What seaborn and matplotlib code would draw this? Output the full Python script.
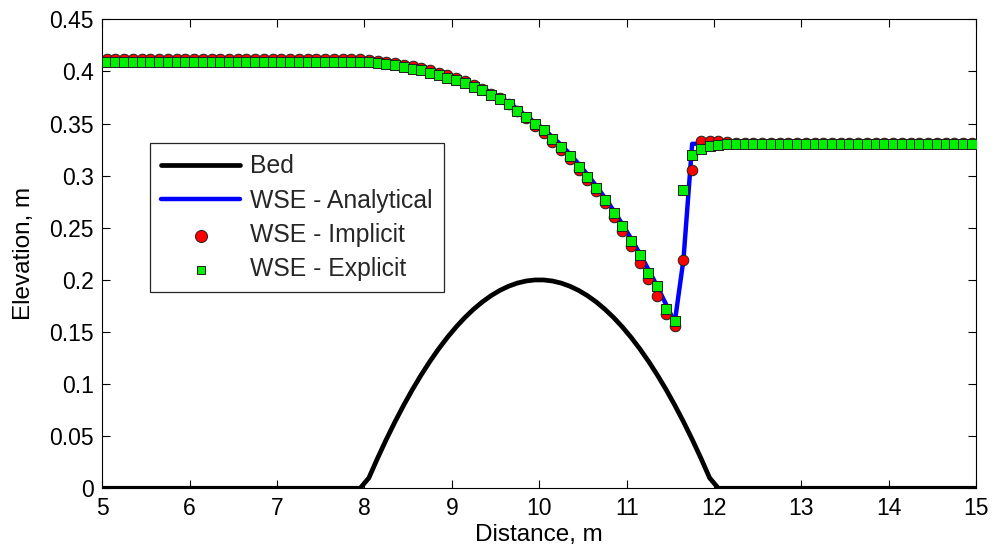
import numpy as np
import matplotlib
matplotlib.use("Agg")
import matplotlib.pyplot as plt
import seaborn as sns

# ---------------- data ----------------
# cell centres, 0.1 m apart
x_cells = np.round(5.05 + 0.1 * np.arange(100), 2)
domain_edges = [5.0, 15.0]

bed = ([0.0] * 29 +
       [0.0, 0.0099, 0.0289, 0.0469, 0.0639, 0.0799, 0.0949, 0.1089, 0.1219, 0.1339,
        0.1449, 0.1549, 0.1639, 0.1719, 0.1789, 0.1849, 0.1899, 0.1939, 0.1969, 0.1989,
        0.1999] +
       [0.1999, 0.1989, 0.1969, 0.1939, 0.1899, 0.1849, 0.1789, 0.1719, 0.1639, 0.1549,
        0.1449, 0.1339, 0.1219, 0.1089, 0.0949, 0.0799, 0.0639, 0.0469, 0.0289, 0.0099] +
       [0.0] * 30)

analytical = ([0.4120] * 29 +
              [0.4120, 0.4117, 0.4106, 0.4095, 0.4084, 0.4069, 0.4053, 0.4036, 0.4014, 0.3993,
               0.3967, 0.3941, 0.3909, 0.3875, 0.3836, 0.3795, 0.3752, 0.3700, 0.3638, 0.3572,
               0.3510] +
              [0.3449, 0.3370, 0.3295, 0.3207, 0.3112, 0.3011, 0.2903, 0.2788, 0.2665, 0.2535,
               0.2397, 0.2252, 0.2098, 0.1937, 0.1767, 0.1589, 0.2192, 0.3305, 0.3305, 0.3305] +
              [0.3305] * 30)

implicit = ([0.4118] * 29 +
            [0.4117, 0.4114, 0.4103, 0.4092, 0.4081, 0.4066, 0.4050, 0.4033, 0.4010, 0.3989,
             0.3962, 0.3936, 0.3904, 0.3869, 0.3830, 0.3787, 0.3743, 0.3690, 0.3620, 0.3552,
             0.3475] +
            [0.3410, 0.3325, 0.3243, 0.3155, 0.3052, 0.2955, 0.2848, 0.2733, 0.2603, 0.2466,
             0.2320, 0.2166, 0.2010, 0.1849, 0.1670, 0.1561, 0.2192, 0.3051, 0.3333, 0.3335] +
            [0.3328, 0.3320, 0.3315] +
            [0.3310] * 27)

explicit = ([0.4093] * 29 +
            [0.4093, 0.4090, 0.4078, 0.4067, 0.4057, 0.4042, 0.4026, 0.4010, 0.3988, 0.3968,
             0.3941, 0.3917, 0.3886, 0.3853, 0.3817, 0.3777, 0.3738, 0.3689, 0.3624, 0.3563,
             0.3492] +
            [0.3433, 0.3353, 0.3272, 0.3186, 0.3084, 0.2988, 0.2882, 0.2769, 0.2641, 0.2515,
             0.2368, 0.2234, 0.2064, 0.1942, 0.1718, 0.1609, 0.2865, 0.3200, 0.3257, 0.3288] +
            [0.3298, 0.3302, 0.3304] +
            [0.3305] * 27)

x_ticks = [5, 6, 7, 8, 9, 10, 11, 12, 13, 14, 15]
x_tick_labels = ["5", "6", "7", "8", "9", "10", "11", "12", "13", "14", "15"]
y_ticks = [0, 0.05, 0.1, 0.15, 0.2, 0.25, 0.3, 0.35, 0.4, 0.45]
y_tick_labels = ["0", "0.05", "0.1", "0.15", "0.2", "0.25", "0.3", "0.35", "0.4", "0.45"]

series_labels = ["Bed", "WSE - Analytical", "WSE - Implicit", "WSE - Explicit"]

# ---------------- plot ----------------
sns.set_theme(style="white")
plt.rcParams["font.family"] = ["Liberation Sans", "DejaVu Sans"]

fig = plt.figure(figsize=(9.95, 5.54), dpi=100)
ax = fig.add_axes([0.1028, 0.1186, 0.8783, 0.8466])

bed_x = np.concatenate([[domain_edges[0]], x_cells, [domain_edges[1]]])
bed_y = [bed[0]] + bed + [bed[-1]]

sns.lineplot(x=bed_x, y=bed_y, color="black", linewidth=3.4, label=series_labels[0],
             ax=ax, sort=False, zorder=2)
sns.lineplot(x=x_cells, y=analytical, color="#0000ff", linewidth=3.2, label=series_labels[1],
             ax=ax, sort=False, zorder=2.5)
sns.scatterplot(x=x_cells, y=implicit, marker="o", s=58, color="#ff0000",
                edgecolor="#202020", linewidth=0.7, label=series_labels[2], ax=ax, zorder=3)
sns.scatterplot(x=x_cells, y=explicit, marker="s", s=44, color="#00ee00",
                edgecolor="#202020", linewidth=0.7, label=series_labels[3], ax=ax, zorder=4)

ax.set_xlim(5, 15)
ax.set_ylim(0, 0.45)
ax.set_xticks(x_ticks)
ax.set_xticklabels(x_tick_labels)
ax.set_yticks(y_ticks)
ax.set_yticklabels(y_tick_labels)

for sp in ax.spines.values():
    sp.set_visible(True)
    sp.set_color("black")
    sp.set_linewidth(0.8)

ax.tick_params(direction="in", length=6, width=0.8, colors="black", labelsize=16.5,
               pad=6, top=True, right=True, bottom=True, left=True)
ax.set_xlabel("Distance, m", fontsize=17.5, color="black", labelpad=3)
ax.set_ylabel("Elevation, m", fontsize=17.5, color="black", labelpad=10)

leg = ax.legend(loc="upper left", bbox_to_anchor=(0.0544, 0.736), fontsize=17.8,
                frameon=True, fancybox=False, edgecolor="#262626", framealpha=1,
                borderpad=0.45, handlelength=3.2, handletextpad=0.4,
                labelspacing=0.42, borderaxespad=0)
leg.get_frame().set_linewidth(0.9)
handles = leg.legend_handles
handles[2].set_sizes([75])
handles[3].set_sizes([26])

fig.savefig("out.png", dpi=100, facecolor="white")
